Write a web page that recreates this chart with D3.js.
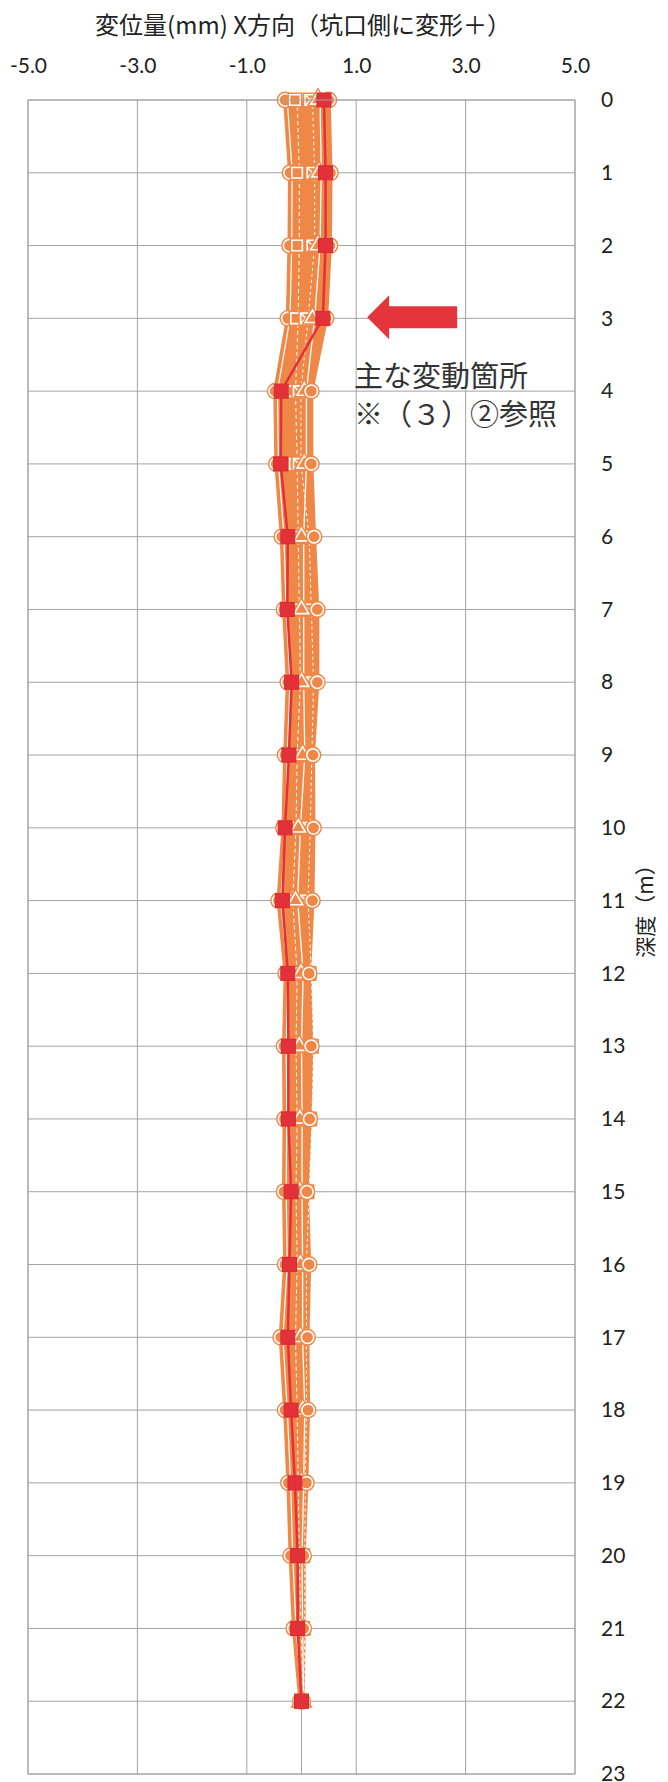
<!DOCTYPE html>
<html>
<head>
<meta charset="utf-8">
<script src="https://cdn.jsdelivr.net/npm/d3@7"></script>
<style>
  html, body { margin: 0; padding: 0; background: #fff; }
  svg text { font-family: Lato, "Open Sans", sans-serif; }
  .jp { font-family: "Noto Sans CJK JP", sans-serif; }
</style>
</head>
<body>
<svg width="668" height="1782"></svg>
<script>
// depth of each gauge (m)
const depths = [0, 1, 2, 3, 4, 5, 6, 7, 8, 9, 10, 11, 12, 13, 14, 15, 16, 17, 18, 19, 20, 21, 22]

// earlier readings (orange) - displacement in mm
const s1Circle   = [-0.30, -0.21, -0.22, -0.25, -0.48, -0.46, -0.36, -0.32, -0.25, -0.30, -0.33, -0.42, -0.29, -0.32, -0.31, -0.32, -0.30, -0.38, -0.30, -0.24, -0.20, -0.14, -0.02]
const s2Square   = [-0.12, -0.08, -0.08, -0.10, -0.15, -0.12, -0.10, -0.08, -0.06, -0.12, -0.14, -0.20, -0.12, -0.14, -0.12, -0.14, -0.12, -0.15, -0.12, -0.10, -0.08, -0.05, 0.00]
const s3Cross    = [0.16, 0.20, 0.20, 0.08, -0.05, -0.05, 0.10, 0.14, 0.18, 0.15, 0.12, 0.08, 0.14, 0.18, 0.15, 0.10, 0.05, 0.05, 0.05, 0.03, 0.02, 0.02, 0.00]
const s4Triangle = [0.30, 0.32, 0.30, 0.20, 0.05, 0.05, 0.00, 0.00, 0.00, 0.02, -0.06, -0.11, -0.01, -0.04, -0.03, -0.03, -0.02, -0.02, 0.02, 0.00, -0.03, -0.02, 0.00]
const s5Circle   = [0.50, 0.53, 0.52, 0.45, 0.18, 0.18, 0.23, 0.29, 0.29, 0.21, 0.22, 0.20, 0.14, 0.18, 0.15, 0.10, 0.14, 0.11, 0.12, 0.09, 0.04, 0.04, 0.02]

// latest reading (red)
const latest = [0.41, 0.44, 0.44, 0.39, -0.37, -0.38, -0.25, -0.26, -0.18, -0.23, -0.30, -0.35, -0.25, -0.24, -0.24, -0.19, -0.22, -0.25, -0.19, -0.12, -0.07, -0.07, 0.00]

const xTicks = [-5, -3, -1, 1, 3, 5]
const yTicks = [0, 1, 2, 3, 4, 5, 6, 7, 8, 9, 10, 11, 12, 13, 14, 15, 16, 17, 18, 19, 20, 21, 22, 23]

const titleText = '変位量(mm) X方向（坑口側に変形＋）'
const depthTitle = '深度（m）'
const noteLines = ['主な変動箇所', '※（３）②参照']

const ORANGE = '#ef8747'
const RED = '#e3313a'
const GRID = '#a3a3a3'

const svg = d3.select('svg')

const plot = {left: 28, right: 575, top: 100, bottom: 1774}

const xScale = d3.scaleLinear().domain([-5, 5]).range([plot.left, plot.right])
const yScale = d3.scaleLinear().domain([0, 23]).range([plot.top, plot.bottom])

// grid
const grid = svg.append('g').attr('class', 'grid')
grid.selectAll('line.h')
  .data(yTicks)
  .enter().append('line')
  .attr('class', 'h')
  .attr('x1', plot.left).attr('x2', plot.right)
  .attr('y1', d => yScale(d)).attr('y2', d => yScale(d))
  .attr('stroke', GRID).attr('stroke-width', 1)
grid.selectAll('line.v')
  .data(xTicks.concat([0]))
  .enter().append('line')
  .attr('class', 'v')
  .attr('x1', d => xScale(d)).attr('x2', d => xScale(d))
  .attr('y1', plot.top).attr('y2', plot.bottom)
  .attr('stroke', GRID).attr('stroke-width', 1)

// axes (plain hyphen for negatives, like the original)
const xAxis = svg.append('g')
  .attr('transform', 'translate(0,' + plot.top + ')')
  .call(d3.axisTop(xScale).tickValues(xTicks).tickFormat(d => d.toFixed(1)).tickSize(0).tickPadding(27))
xAxis.select('.domain').remove()
xAxis.selectAll('text').attr('font-size', 21).attr('fill', '#222').style('font-family', 'Lato, sans-serif')

const yAxis = svg.append('g')
  .attr('transform', 'translate(' + plot.right + ',0)')
  .call(d3.axisRight(yScale).tickValues(yTicks).tickFormat(d3.format('d')).tickSize(0).tickPadding(26))
yAxis.select('.domain').remove()
yAxis.selectAll('text').attr('font-size', 21).attr('fill', '#222').style('font-family', 'Lato, sans-serif')

// titles
svg.append('text')
  .attr('class', 'jp')
  .attr('x', 303).attr('y', 34)
  .attr('text-anchor', 'middle')
  .attr('font-size', 24)
  .attr('fill', '#222')
  .text(titleText)

svg.append('text')
  .attr('class', 'jp')
  .attr('transform', 'translate(653,906) rotate(-90)')
  .attr('text-anchor', 'middle')
  .attr('font-size', 21)
  .attr('fill', '#222')
  .text(depthTitle)

// orange band
const orangeSeries = [s1Circle, s2Square, s3Cross, s4Triangle, s5Circle]
const bandRows = depths.map((d, i) => ({
  depth: d,
  lo: d3.min(orangeSeries, s => s[i]),
  hi: d3.max(orangeSeries, s => s[i])
}))

const area = d3.area()
  .y(d => yScale(d.depth))
  .x0(d => xScale(d.lo))
  .x1(d => xScale(d.hi))

svg.append('path')
  .datum(bandRows)
  .attr('d', area)
  .attr('fill', ORANGE)

const line = d3.line()
  .x(d => xScale(d.v))
  .y(d => yScale(d.depth))

const toPts = s => depths.map((d, i) => ({depth: d, v: s[i]}))

svg.append('g').selectAll('path')
  .data(orangeSeries)
  .enter().append('path')
  .attr('d', s => line(toPts(s)))
  .attr('fill', 'none')
  .attr('stroke', ORANGE)
  .attr('stroke-width', 4)

// white hairlines inside the band
const whiteLines = [
  {s: s1Circle, dash: null, w: 1.2},
  {s: s2Square, dash: '4,3', w: 1},
  {s: s3Cross, dash: '3,3', w: 1},
  {s: s4Triangle, dash: null, w: 1.3}
]
svg.append('g').selectAll('path')
  .data(whiteLines)
  .enter().append('path')
  .attr('d', d => line(toPts(d.s).map(p => ({depth: p.depth, v: p.v + 0.04}))))
  .attr('fill', 'none')
  .attr('stroke', '#fff')
  .attr('stroke-width', d => d.w)
  .attr('stroke-dasharray', d => d.dash)

// orange markers
const markerDefs = [
  {s: s1Circle, type: d3.symbolCircle, size: 120},
  {s: s2Square, type: d3.symbolSquare, size: 110},
  {s: s3Cross, type: d3.symbolSquare, size: 110, cross: true},
  {s: s4Triangle, type: d3.symbolTriangle, size: 90},
  {s: s5Circle, type: d3.symbolCircle, size: 120}
]

const markers = svg.append('g').attr('class', 'markers')
markerDefs.forEach(m => {
  const pts = toPts(m.s)
  const g = markers.append('g')
  g.selectAll('path.outer')
    .data(pts)
    .enter().append('path')
    .attr('class', 'outer')
    .attr('transform', d => 'translate(' + xScale(d.v) + ',' + yScale(d.depth) + ')')
    .attr('d', d3.symbol().type(m.type).size(m.size))
    .attr('fill', ORANGE)
    .attr('stroke', ORANGE)
    .attr('stroke-width', 4.5)
  g.selectAll('path.inner')
    .data(pts)
    .enter().append('path')
    .attr('class', 'inner')
    .attr('transform', d => 'translate(' + xScale(d.v) + ',' + yScale(d.depth) + ')')
    .attr('d', d3.symbol().type(m.type).size(m.size))
    .attr('fill', ORANGE)
    .attr('stroke', '#fff')
    .attr('stroke-width', 1.6)
  if (m.cross) {
    g.selectAll('path.x')
      .data(pts)
      .enter().append('path')
      .attr('class', 'x')
      .attr('transform', d => 'translate(' + xScale(d.v) + ',' + yScale(d.depth) + ')')
      .attr('d', d3.symbol().type(d3.symbolTimes).size(60))
      .attr('fill', 'none')
      .attr('stroke', '#fff')
      .attr('stroke-width', 1.5)
  }
})

// latest reading
const latestPts = toPts(latest)
svg.append('path')
  .datum(latestPts)
  .attr('d', line)
  .attr('fill', 'none')
  .attr('stroke', RED)
  .attr('stroke-width', 2.5)

svg.append('g').selectAll('rect')
  .data(latestPts)
  .enter().append('rect')
  .attr('x', d => xScale(d.v) - 7)
  .attr('y', d => yScale(d.depth) - 7)
  .attr('width', 14).attr('height', 14)
  .attr('fill', RED)
  .attr('stroke', '#d92a33')
  .attr('stroke-width', 1)

// plot border
svg.append('rect')
  .attr('x', plot.left).attr('y', plot.top)
  .attr('width', plot.right - plot.left).attr('height', plot.bottom - plot.top)
  .attr('fill', 'none')
  .attr('stroke', GRID)

// annotation arrow pointing at 3 m
const ay = yScale(3) - 1
const tipX = xScale(1.2)
const arrow = [
  [tipX, ay],
  [tipX + 22, ay - 22],
  [tipX + 22, ay - 11],
  [tipX + 90, ay - 11],
  [tipX + 90, ay + 11],
  [tipX + 22, ay + 11],
  [tipX + 22, ay + 22]
]
svg.append('path')
  .attr('d', 'M' + arrow.join('L') + 'Z')
  .attr('fill', '#e4343c')

svg.append('g').selectAll('text')
  .data(noteLines)
  .enter().append('text')
  .attr('class', 'jp')
  .attr('x', 354)
  .attr('y', (d, i) => 387 + i * 38)
  .attr('font-size', 29)
  .attr('fill', '#333')
  .text(d => d)
</script>
</body>
</html>
